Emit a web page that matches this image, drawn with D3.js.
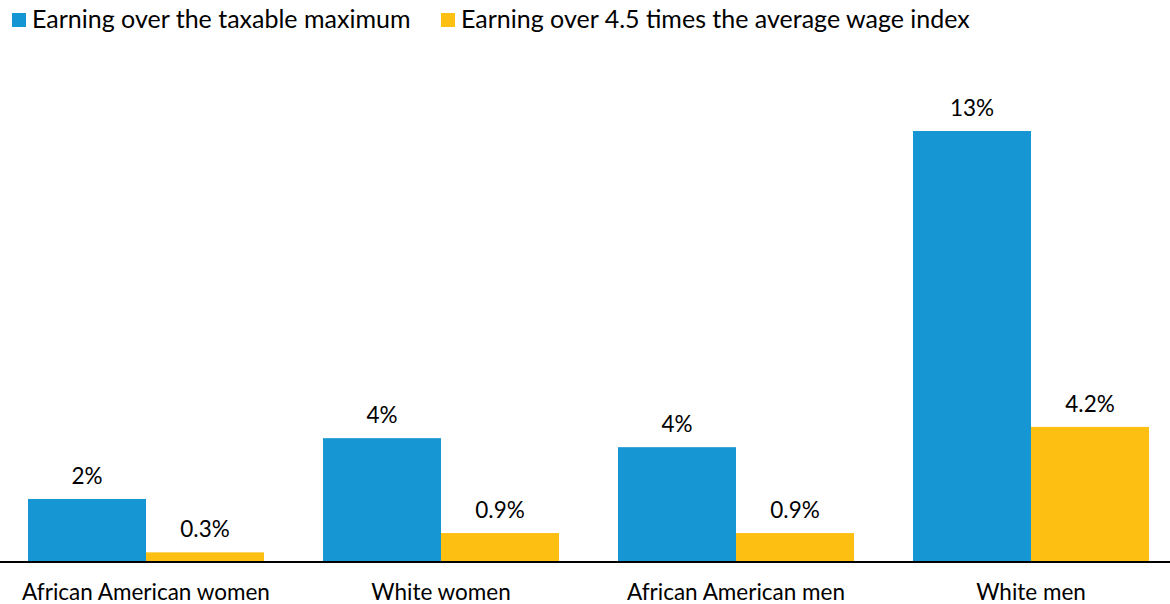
<!DOCTYPE html>
<html>
<head>
<meta charset="utf-8">
<script src="https://cdn.jsdelivr.net/npm/d3@7/dist/d3.min.js"></script>
<style>
  html, body { margin: 0; padding: 0; background: #fff; }
  svg { display: block; font-family: Lato, "Open Sans", sans-serif; }
</style>
</head>
<body>
<svg id="chart" width="1170" height="604"></svg>
<script>
// Share of workers in each group with earnings above each threshold (%)
const categories = ["African American women", "White women", "African American men", "White men"];
const seriesNames = ["Earning over the taxable maximum", "Earning over 4.5 times the average wage index"];
const overTaxableMax = [1.96, 3.85, 3.57, 13.4];
const overWageIndex = [0.3, 0.9, 0.9, 4.2];
const labelFormats = [d3.format(".0f"), d3.format(".1f")];
const colors = ["#1696d2", "#fdbf11"];

const svg = d3.select("#chart");
const W = 1170, baseline = 562, plotTop = 131;
const labelSize = 22.5;

const x = d3.scaleBand().domain(categories).range([28, 1149]).paddingInner(0.2).paddingOuter(0);
const xs = d3.scaleBand().domain(d3.range(seriesNames.length)).range([0, x.bandwidth()]);
const y = d3.scaleLinear().domain([0, 13.4]).range([baseline, plotTop]);

const series = [overTaxableMax, overWageIndex];

// Legend
const legend = svg.append("g").attr("class", "legend");
const legendX = [12, 441];
seriesNames.forEach((name, i) => {
  const g = legend.append("g").attr("transform", `translate(${legendX[i]},0)`);
  g.append("rect").attr("x", 0).attr("y", 13).attr("width", 14).attr("height", 14).attr("fill", colors[i]);
  g.append("text").attr("x", 20).attr("y", 28).attr("font-size", 25).attr("fill", "#000").text(name);
});

// Bars and value labels
const groups = svg.append("g").selectAll("g").data(categories).join("g")
  .attr("transform", d => `translate(${x(d)},0)`);

series.forEach((vals, si) => {
  groups.append("rect")
    .attr("x", xs(si))
    .attr("width", xs.bandwidth())
    .attr("y", (d, i) => y(vals[i]))
    .attr("height", (d, i) => baseline - y(vals[i]))
    .attr("fill", colors[si]);
  groups.append("text")
    .attr("x", xs(si) + xs.bandwidth() / 2)
    .attr("y", (d, i) => y(vals[i]) - 15)
    .attr("text-anchor", "middle")
    .attr("font-size", labelSize)
    .attr("fill", "#000")
    .text((d, i) => labelFormats[si](vals[i]) + "%");
});

// Category axis
const axis = svg.append("g").attr("transform", `translate(0,${baseline})`)
  .call(d3.axisBottom(x).tickSize(0).tickPadding(22));
axis.select(".domain").remove();
axis.selectAll("text").attr("font-size", labelSize).attr("fill", "#000").attr("font-family", "Lato, sans-serif");
svg.append("line").attr("x1", 0).attr("x2", W).attr("y1", baseline).attr("y2", baseline)
  .attr("stroke", "#000").attr("stroke-width", 2);
</script>
</body>
</html>
